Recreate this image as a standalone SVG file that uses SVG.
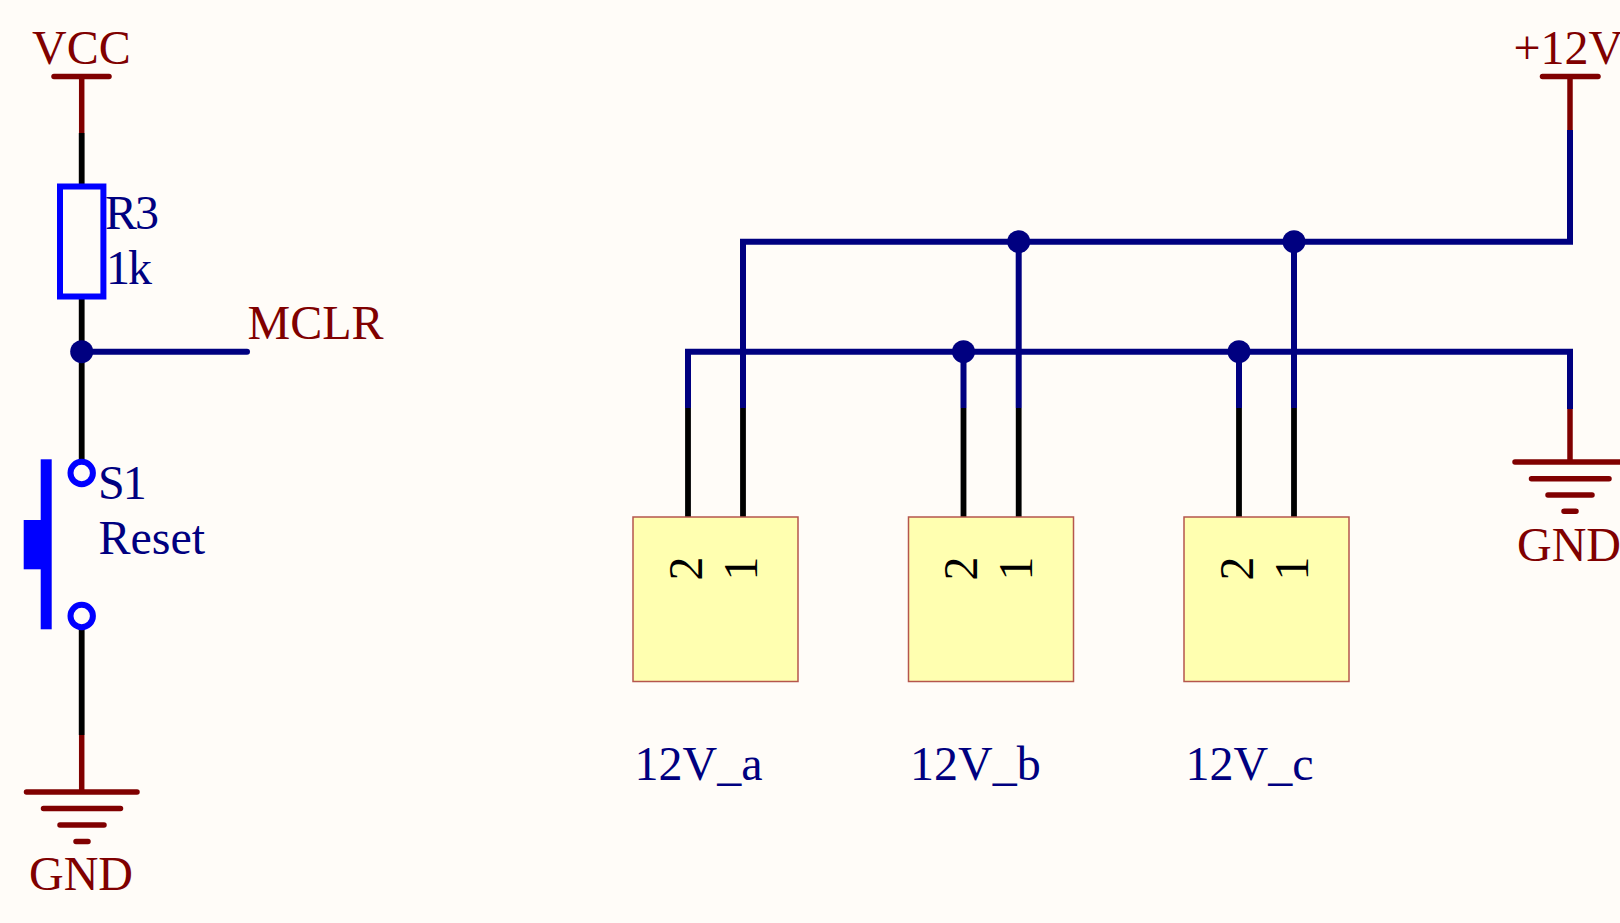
<svg xmlns="http://www.w3.org/2000/svg" width="1620" height="923" viewBox="0 0 1620 923">
<style>
text{font-family:"Liberation Serif","Times New Roman",serif;font-size:48px}
.red{fill:#800000}.navy{fill:#000080}.blk{fill:#000}
.tight{letter-spacing:-2px}
.r{stroke:#800000;stroke-width:5.5;fill:none}
.rb{stroke:#800000;stroke-width:5.5;stroke-linecap:round;fill:none}
.k{stroke:#000;stroke-width:5.8;fill:none}
.n{stroke:#000080;stroke-width:6;fill:none;stroke-linejoin:miter}
.b{stroke:#0000ff;stroke-width:6;fill:none}
.box{fill:#ffffb0;stroke:#b5564c;stroke-width:1.5}
.dot{fill:#000080}
</style>
<rect width="1620" height="923" fill="#fffcf8"/>
<g id="connectors">
<path class="k" d="M81.7 133V186M81.7 297V460M81.7 629V735"/>
<path class="n" stroke-linecap="round" d="M81.7 351.7H247"/>
<path class="n" d="M743 408V241.7H1570V130"/>
<path class="n" d="M688 408V351.7H1570V409"/>
<path class="n" d="M963.5 351.7V408M1018.7 241.7V408M1239 351.7V408M1294 241.7V408"/>
<path class="k" d="M688 408V517M743 408V517M963.5 408V517M1018.7 408V517M1239 408V517M1294 408V517"/>
<circle class="dot" cx="81.7" cy="351.7" r="11.5"/>
<circle class="dot" cx="1018.7" cy="241.7" r="11.5"/>
<circle class="dot" cx="1294" cy="241.7" r="11.5"/>
<circle class="dot" cx="963.5" cy="351.7" r="11.5"/>
<circle class="dot" cx="1239" cy="351.7" r="11.5"/>
</g>
<g id="VCC">
<path class="r" d="M81.7 76.5V133"/><path class="rb" d="M54 76.5H109"/>
<text class="red" x="32" y="64">VCC</text>
</g>
<g id="R3">
<rect class="b" x="60" y="186.5" width="43.4" height="110"/>
<text class="navy tight" x="105" y="229">R3</text>
<text class="navy tight" x="106" y="284">1k</text>
</g>
<g id="MCLR"><text class="red" x="247.500" y="339">MCLR</text></g>
<g id="S1">
<circle class="b" cx="81.7" cy="473" r="11.2"/>
<circle class="b" cx="81.7" cy="616" r="11.2"/>
<rect x="40.7" y="459.3" width="11" height="170" fill="#0000ff"/>
<rect x="23.7" y="520" width="18" height="49.3" fill="#0000ff"/>
<text class="navy tight" x="98" y="499">S1</text>
<text class="navy" x="98.500" y="554">Reset</text>
</g>
<g id="GND1">
<path class="r" d="M81.7 735V792"/>
<path class="rb" d="M26.500 792H137M43.500 808.500H120.500M60 825H104M76 841.500H88"/>
<text class="red" x="29" y="889.500">GND</text>
</g>
<g id="plus12V">
<path class="r" d="M1570 76.5V130"/><path class="rb" d="M1542.5 76.5H1598"/>
<text class="red" x="1513.500" y="64">+12V</text>
</g>
<g id="GND2">
<path class="r" d="M1570 409V462"/>
<path class="rb" d="M1515 462H1625M1531.5 478.7H1609M1548 495H1592M1564 511.2H1576"/>
<text class="red" x="1517" y="560.500">GND</text>
</g>
<g id="J_a">
<rect class="box" x="633" y="517" width="165" height="164.500"/>
<text class="blk" transform="translate(701.500 580.500) rotate(-90)">2</text>
<text class="blk" transform="translate(756.500 580.500) rotate(-90)">1</text>
<text class="navy" x="634.500" y="780">12V_a</text>
</g>
<g id="J_b">
<rect class="box" x="908.5" y="517" width="165" height="164.500"/>
<text class="blk" transform="translate(977 580.500) rotate(-90)">2</text>
<text class="blk" transform="translate(1032 580.500) rotate(-90)">1</text>
<text class="navy" x="910" y="780">12V_b</text>
</g>
<g id="J_c">
<rect class="box" x="1184" y="517" width="165" height="164.500"/>
<text class="blk" transform="translate(1252.500 580.500) rotate(-90)">2</text>
<text class="blk" transform="translate(1307.500 580.500) rotate(-90)">1</text>
<text class="navy" x="1185.500" y="780">12V_c</text>
</g>
</svg>
